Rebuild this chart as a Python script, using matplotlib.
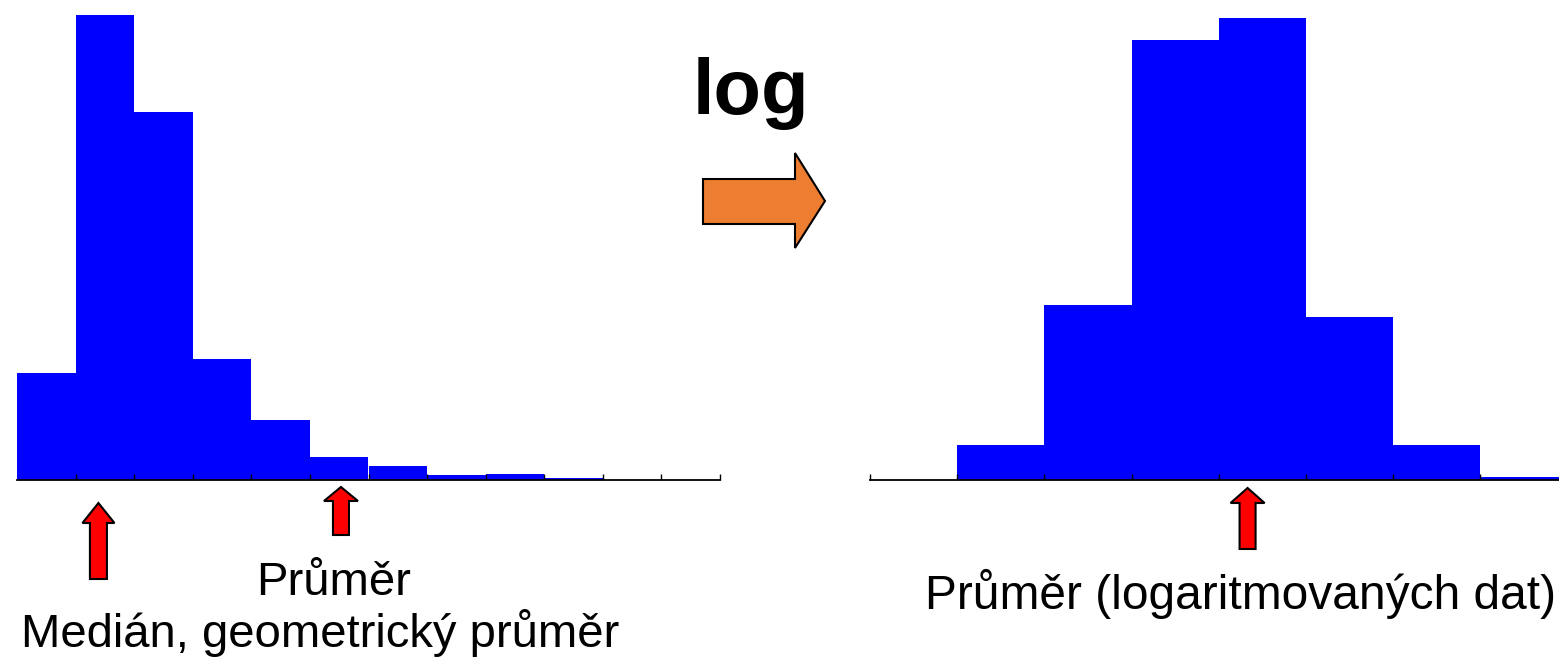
# histogram before / after log transform
import matplotlib
matplotlib.use('Agg')
from matplotlib import pyplot as plt
from matplotlib.patches import Polygon
from matplotlib.transforms import IdentityTransform

# --- data ---
left_counts = [107, 465, 368, 121, 60, 23, 14, 5, 6, 2, 0, 0]
right_counts = [0, 35, 175, 440, 462, 163, 35, 3]
left_median = 1.39      # bin units, red arrow under the peak
left_mean = 5.53
right_mean = 4.33
txt_mean = 'Průměr'
txt_median = 'Medián, geometrický průměr'
txt_logmean = 'Průměr (logaritmovaných dat)'
txt_log = 'log'

plt.rcParams['font.family'] = ['Liberation Sans', 'DejaVu Sans']

W, H = 1559, 659
fig = plt.figure(figsize=(W/100, H/100), dpi=100)

def fx(px): return px / W
def fy(py): return (H - py) / H   # py measured from top

base = 479.5
axh = (base - 15) / H
axL = fig.add_axes([fx(17), fy(base), fx(720-17), axh])
axR = fig.add_axes([fx(870), fy(base), fx(8*87.2), axh])

for ax, cnt, ticks in ((axL, left_counts, range(1, len(left_counts)+1)),
                       (axR, right_counts, range(0, len(right_counts)+1))):
    ax.bar(range(len(cnt)), cnt, width=1.0, align='edge',
           color='#0000ff', linewidth=0)
    ax.set_xlim(0, len(cnt))
    ax.set_ylim(0, 465)
    for s in ('left', 'right', 'top'):
        ax.spines[s].set_visible(False)
    ax.spines['bottom'].set_linewidth(1.3)
    ax.set_yticks([])
    ax.set_xticks(list(ticks))
    ax.set_xticklabels([])
    ax.tick_params(axis='x', direction='in', length=4, width=1)
    ax.patch.set_alpha(0)

# --- arrows ---
def up_arrow(xc, tip, hbase, hw, sw, bottom):
    pts = [(xc, tip), (xc+hw, hbase), (xc+sw, hbase), (xc+sw, bottom),
           (xc-sw, bottom), (xc-sw, hbase), (xc-hw, hbase)]
    pts = [(x, H - y) for x, y in pts]
    fig.add_artist(Polygon(pts, closed=True, facecolor='#ff0000',
                           edgecolor='black', linewidth=1.5,
                           transform=IdentityTransform()))

def xpix(ax, xv):
    return ax.transData.transform((xv, 0))[0]

up_arrow(xpix(axL, left_median), 503, 523, 16, 8.5, 579)
up_arrow(xpix(axL, left_mean), 487, 501, 17, 8, 535)
up_arrow(xpix(axR, right_mean), 488, 503, 17, 8, 549)

# orange arrow pointing right
pts = [(703, 179), (795, 179), (795, 153), (825, 201), (795, 248),
       (795, 224), (703, 224)]
pts = [(x, H - y) for x, y in pts]
fig.add_artist(Polygon(pts, closed=True, facecolor='#ed7d31',
                       edgecolor='black', linewidth=1.5,
                       transform=IdentityTransform()))

# --- texts ---
fig.text(fx(751), fy(114), txt_log, fontsize=56, fontweight='bold',
         ha='center', va='baseline')
fig.text(fx(334), fy(595), txt_mean, fontsize=34, ha='center', va='baseline')
fig.text(fx(320), fy(647), txt_median, fontsize=34, ha='center', va='baseline')
fig.text(fx(1241), fy(609), txt_logmean, fontsize=34.5, ha='center',
         va='baseline')

fig.savefig('out.png', dpi=100)
